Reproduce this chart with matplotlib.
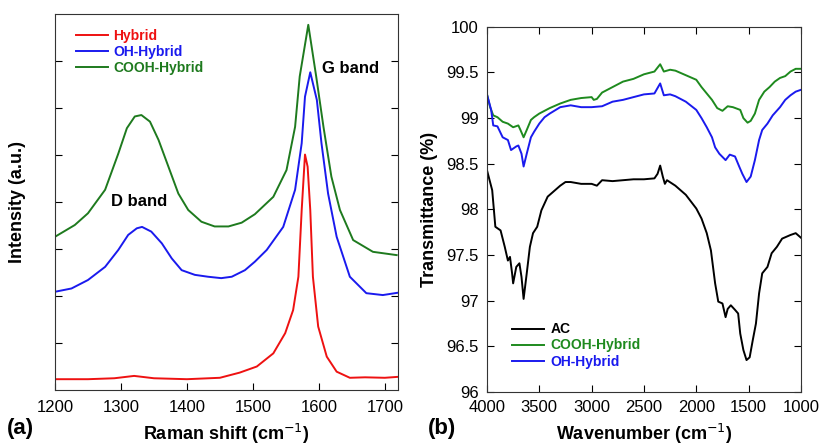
import numpy as np
import matplotlib.pyplot as plt

plt.rcParams['font.family'] = ['Liberation Sans', 'DejaVu Sans']

# --- (a) Raman spectra (arbitrary offset units)
hyb_x = [1200, 1250, 1290, 1320, 1350, 1400, 1450, 1480, 1506, 1531, 1549, 1561, 1569,
         1574, 1579, 1583, 1587, 1591, 1599, 1612, 1627, 1647, 1670, 1700, 1720]
hyb_y = [0.23, 0.23, 0.25, 0.30, 0.25, 0.23, 0.26, 0.37, 0.50, 0.78, 1.21, 1.70, 2.41,
         3.83, 5.01, 4.75, 3.83, 2.41, 1.35, 0.71, 0.39, 0.26, 0.27, 0.26, 0.28]

oh_x = [1200, 1225, 1250, 1276, 1296, 1311, 1324, 1332, 1346, 1362, 1377, 1392, 1412, 1432,
        1452, 1468, 1488, 1503, 1521, 1546, 1564, 1574, 1579, 1587, 1597, 1604, 1614, 1627,
        1647, 1672, 1697, 1720]
oh_y = [2.09, 2.16, 2.34, 2.62, 2.98, 3.30, 3.44, 3.47, 3.37, 3.12, 2.80, 2.55, 2.45, 2.41,
        2.38, 2.41, 2.55, 2.73, 2.98, 3.47, 4.26, 5.25, 6.24, 6.76, 6.17, 5.25, 4.18, 3.26,
        2.41, 2.06, 2.02, 2.07]

cooh_x = [1200, 1230, 1250, 1276, 1296, 1309, 1321, 1331, 1344, 1357, 1372, 1387, 1402, 1422,
          1442, 1463, 1483, 1503, 1531, 1551, 1564, 1571, 1584, 1596, 1607, 1619, 1632, 1652,
          1682, 1718]
cooh_y = [3.26, 3.51, 3.76, 4.26, 5.03, 5.57, 5.82, 5.85, 5.71, 5.32, 4.75, 4.18, 3.83, 3.58,
          3.48, 3.48, 3.56, 3.74, 4.11, 4.68, 5.60, 6.67, 7.77, 6.67, 5.60, 4.54, 3.83, 3.19,
          2.94, 2.87]

# --- (b) FTIR spectra
ac_x = [4000, 3950, 3920, 3870, 3830, 3800, 3780, 3760, 3750, 3720, 3690, 3670, 3650, 3620,
        3590, 3560, 3520, 3480, 3420, 3350, 3300, 3250, 3200, 3100, 3000, 2950, 2900, 2800,
        2700, 2600, 2500, 2400, 2370, 2345, 2320, 2300, 2280, 2200, 2100, 2000, 1950, 1900,
        1860, 1840, 1820, 1790, 1750, 1720, 1700, 1670, 1630, 1600, 1580, 1550, 1520, 1490,
        1460, 1430, 1400, 1370, 1320, 1280, 1230, 1180, 1100, 1050, 1000]
ac_y = [98.43, 98.21, 97.81, 97.77, 97.59, 97.44, 97.48, 97.30, 97.19, 97.37, 97.41, 97.26,
        97.02, 97.30, 97.59, 97.74, 97.81, 97.99, 98.14, 98.21, 98.26, 98.30, 98.30, 98.28,
        98.28, 98.26, 98.32, 98.31, 98.32, 98.33, 98.33, 98.34, 98.39, 98.48, 98.36, 98.28,
        98.32, 98.26, 98.16, 98.01, 97.90, 97.74, 97.55, 97.37, 97.19, 96.99, 96.97, 96.82,
        96.91, 96.95, 96.90, 96.86, 96.64, 96.46, 96.35, 96.38, 96.57, 96.75, 97.08, 97.30,
        97.37, 97.52, 97.59, 97.68, 97.72, 97.74, 97.69]

ftir_cooh_x = [4000, 3970, 3940, 3900, 3850, 3800, 3750, 3700, 3680, 3650, 3620, 3580, 3550,
               3500, 3400, 3300, 3200, 3100, 3000, 2980, 2950, 2900, 2800, 2700, 2600, 2500,
               2400, 2345, 2310, 2250, 2200, 2100, 2000, 1950, 1900, 1850, 1800, 1750, 1700,
               1650, 1580, 1550, 1510, 1480, 1440, 1400, 1350, 1300, 1250, 1200, 1150, 1100,
               1050, 1000]
ftir_cooh_y = [99.26, 99.12, 99.03, 99.01, 98.96, 98.94, 98.90, 98.92, 98.87, 98.79, 98.87,
               98.98, 99.01, 99.05, 99.11, 99.16, 99.20, 99.22, 99.23, 99.20, 99.21, 99.28,
               99.34, 99.40, 99.43, 99.48, 99.51, 99.59, 99.51, 99.53, 99.52, 99.47, 99.42,
               99.34, 99.27, 99.20, 99.11, 99.08, 99.13, 99.12, 99.09, 99.00, 98.95, 98.97,
               99.05, 99.20, 99.29, 99.34, 99.40, 99.44, 99.46, 99.51, 99.54, 99.54]

ftir_oh_x = [4000, 3960, 3940, 3900, 3850, 3800, 3770, 3720, 3700, 3670, 3650, 3620, 3580,
             3550, 3500, 3450, 3400, 3300, 3200, 3100, 3000, 2900, 2800, 2700, 2600, 2500,
             2400, 2345, 2310, 2250, 2200, 2100, 2000, 1950, 1900, 1850, 1820, 1780, 1720,
             1680, 1630, 1590, 1560, 1520, 1480, 1440, 1400, 1370, 1320, 1270, 1200, 1150,
             1100, 1050, 1000]
ftir_oh_y = [99.26, 99.09, 98.92, 98.91, 98.79, 98.76, 98.65, 98.69, 98.70, 98.61, 98.47,
             98.61, 98.79, 98.85, 98.94, 99.01, 99.05, 99.12, 99.14, 99.12, 99.12, 99.13,
             99.18, 99.20, 99.23, 99.26, 99.27, 99.38, 99.25, 99.26, 99.24, 99.18, 99.09,
             99.00, 98.90, 98.79, 98.68, 98.61, 98.54, 98.60, 98.58, 98.47, 98.39, 98.30,
             98.36, 98.54, 98.76, 98.87, 98.94, 99.03, 99.12, 99.20, 99.25, 99.29, 99.31]

fig = plt.figure(figsize=(8.23, 4.47), dpi=100)
ax1 = fig.add_axes([0.0668, 0.1275, 0.4168, 0.8412])
ax2 = fig.add_axes([0.5917, 0.123, 0.3815, 0.817])

lw = 1.4
ax1.plot(hyb_x, hyb_y, color='#ee1111', lw=lw, label='Hybrid')
ax1.plot(oh_x, oh_y, color='#1a1aee', lw=lw, label='OH-Hybrid')
ax1.plot(cooh_x, cooh_y, color='#1e7a1e', lw=lw, label='COOH-Hybrid')
ax1.set_xlim(1200, 1720)
ax1.set_ylim(0, 8)
ax1.set_xticks([1200, 1300, 1400, 1500, 1600, 1700])
ax1.set_yticks(range(1, 8))
ax1.set_yticklabels([])
ax1.tick_params(direction='in', length=5, labelsize=12, right=True, pad=7)
ax1.set_xlabel('Raman shift (cm$^{-1}$)', fontsize=13, fontweight='bold', labelpad=5)
ax1.set_ylabel('Intensity (a.u.)', fontsize=13, fontweight='bold', labelpad=14)
ax1.text(1328, 4.0, 'D band', fontsize=12, fontweight='bold', ha='center', va='center')
ax1.text(1648, 6.85, 'G band', fontsize=12, fontweight='bold', ha='center', va='center')
ax1.legend(loc='upper left', frameon=False, labelcolor='linecolor', handlelength=2.3,
           prop={'weight': 'bold', 'size': 10}, borderaxespad=0.4, labelspacing=0.15,
           handletextpad=0.35, bbox_to_anchor=(0.03, 0.99))

ax2.plot(ac_x, ac_y, color='black', lw=lw, label='AC')
ax2.plot(ftir_cooh_x, ftir_cooh_y, color='#1e8a1e', lw=lw, label='COOH-Hybrid')
ax2.plot(ftir_oh_x, ftir_oh_y, color='#1a1aee', lw=lw, label='OH-Hybrid')
ax2.set_xlim(4000, 1000)
ax2.set_ylim(96, 100)
ax2.set_xticks([4000, 3500, 3000, 2500, 2000, 1500, 1000])
ax2.set_yticks(np.arange(96, 100.01, 0.5))
ax2.set_yticklabels(['%g' % v for v in np.arange(96, 100.01, 0.5)])
ax2.tick_params(direction='in', length=5, labelsize=12, right=True, top=True, pad=6)
ax2.set_xlabel('Wavenumber (cm$^{-1}$)', fontsize=13, fontweight='bold', labelpad=5)
ax2.set_ylabel('Transmittance (%)', fontsize=13, fontweight='bold', labelpad=6)
ax2.legend(loc='lower left', frameon=False, labelcolor='linecolor', handlelength=2.3,
           prop={'weight': 'bold', 'size': 10}, labelspacing=0.15, handletextpad=0.45,
           bbox_to_anchor=(0.04, 0.03))

for ax in (ax1, ax2):
    for s in ax.spines.values():
        s.set_color('#333333')

fig.text(0.008, 0.03, '(a)', fontsize=16, fontweight='bold')
fig.text(0.52, 0.03, '(b)', fontsize=16, fontweight='bold')

fig.savefig('out.png', dpi=100)
